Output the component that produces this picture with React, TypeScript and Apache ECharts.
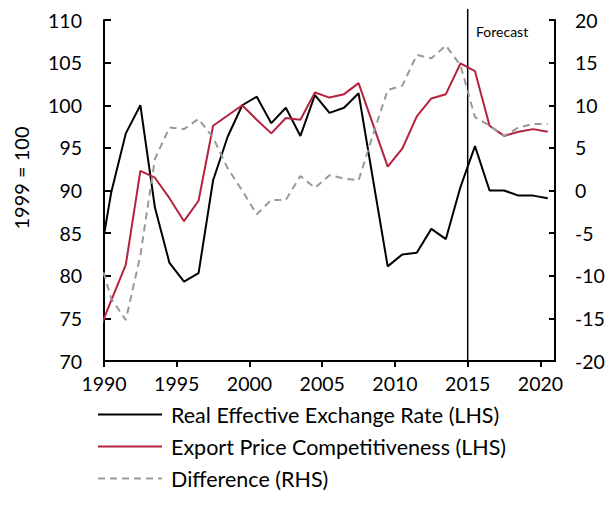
import React, { useEffect, useRef } from "react";
import * as echarts from "echarts";

// Annual data (plotted at mid-year)
const years = [1989, 1990, 1991, 1992, 1993, 1994, 1995, 1996, 1997, 1998, 1999, 2000, 2001, 2002, 2003, 2004, 2005, 2006, 2007, 2008, 2009, 2010, 2011, 2012, 2013, 2014, 2015, 2016, 2017, 2018, 2019, 2020];
const reer = [79.8, 89.8, 96.7, 100.0, 88.0, 81.5, 79.3, 80.3, 91.2, 96.3, 100.0, 101.0, 97.9, 99.7, 96.4, 101.2, 99.1, 99.7, 101.4, 91.2, 81.1, 82.5, 82.7, 85.5, 84.3, 90.4, 95.2, 90.0, 90.0, 89.4, 89.4, 89.1];
const exportPrice = [72.9, 77.1, 81.3, 92.3, 91.5, 89.1, 86.4, 88.8, 97.6, 98.8, 100.0, 98.3, 96.7, 98.5, 98.3, 101.5, 100.9, 101.3, 102.6, 97.7, 92.8, 94.9, 98.7, 100.8, 101.3, 104.9, 104.0, 97.6, 96.4, 96.9, 97.2, 96.9];
const difference = [-6.9, -12.7, -15.2, -7.6, 3.7, 7.4, 7.2, 8.4, 6.2, 2.6, 0.0, -2.8, -1.1, -1.1, 1.7, 0.3, 1.8, 1.4, 1.2, 6.6, 11.8, 12.3, 15.9, 15.5, 17.0, 14.7, 8.6, 7.6, 6.4, 7.4, 7.8, 7.8];
const xTicks = [1990, 1995, 2000, 2005, 2010, 2015, 2020];
const forecastYear = 2015;

const seriesNames = [
  "Real Effective Exchange Rate (LHS)",
  "Export Price Competitiveness (LHS)",
  "Difference (RHS)",
];

const FONT = "Lato";

export default function App() {
  const ref = useRef<HTMLDivElement>(null);

  useEffect(() => {
    if (!ref.current) return;
    const chart = echarts.init(ref.current, undefined, { renderer: "svg" });
    const mid = (arr: number[]) => years.map((y, i) => [y + 0.5, arr[i]]);

    chart.setOption({
      animation: false,
      backgroundColor: "#fff",
      textStyle: { fontFamily: FONT },
      grid: { left: 104, right: 53, top: 20, bottom: 153, containLabel: false },
      xAxis: {
        type: "value",
        min: 1990,
        max: 2021,
        interval: 5,
        splitLine: { show: false },
        axisLine: { show: true, onZero: false, lineStyle: { color: "#000", width: 2 } },
        axisTick: { show: true, inside: false, length: 6, customValues: xTicks, lineStyle: { color: "#000", width: 2 } },
        axisLabel: {
          customValues: xTicks,
          color: "#000",
          fontSize: 19.5,
          fontFamily: FONT,
          margin: 12,
          formatter: (v: number) => String(v),
        },
      },
      yAxis: [
        {
          type: "value",
          min: 70,
          max: 110,
          interval: 5,
          position: "left",
          splitLine: { show: false },
          axisLine: { show: true, lineStyle: { color: "#000", width: 2 } },
          axisTick: { show: true, inside: true, length: 7, lineStyle: { color: "#000", width: 2 } },
          axisLabel: { color: "#000", fontSize: 19.5, fontFamily: FONT, margin: 22 },
        },
        {
          type: "value",
          min: -20,
          max: 20,
          interval: 5,
          position: "right",
          splitLine: { show: false },
          axisLine: { show: true, lineStyle: { color: "#000", width: 2 } },
          axisTick: { show: true, inside: true, length: 6, lineStyle: { color: "#000", width: 2 } },
          axisLabel: { color: "#000", fontSize: 19.5, fontFamily: FONT, margin: 20 },
        },
      ],
      legend: {
        orient: "vertical",
        left: 92,
        top: 398,
        data: seriesNames,
        itemWidth: 64,
        itemHeight: 14,
        itemGap: 9,
        itemStyle: { opacity: 0 },
        textStyle: { color: "#000", fontSize: 21.5, fontFamily: FONT, lineHeight: 23, padding: [0, 0, 0, 4] },
      },
      graphic: [
        {
          type: "text",
          x: 21,
          y: 178,
          rotation: Math.PI / 2,
          style: { text: "1999 = 100", fontSize: 20, fontFamily: FONT, fill: "#000", align: "center", verticalAlign: "middle" },
        },
        {
          type: "text",
          left: 476,
          top: 24,
          style: { text: "Forecast", fontSize: 14, fontFamily: FONT, fill: "#000" },
        },
      ],
      series: [
        {
          name: seriesNames[0],
          type: "line",
          yAxisIndex: 0,
          data: mid(reer),
          showSymbol: false,
          symbol: "none",
          clip: true,
          lineStyle: { color: "#000", width: 2 },
          itemStyle: { color: "#000" },
        },
        {
          name: seriesNames[1],
          type: "line",
          yAxisIndex: 0,
          data: mid(exportPrice),
          showSymbol: false,
          symbol: "none",
          clip: true,
          lineStyle: { color: "#B5223F", width: 2 },
          itemStyle: { color: "#B5223F" },
        },
        {
          name: seriesNames[2],
          type: "line",
          yAxisIndex: 1,
          data: mid(difference),
          showSymbol: false,
          symbol: "none",
          clip: true,
          lineStyle: { color: "#999", width: 2, type: [7, 5] },
          itemStyle: { color: "#999" },
        },
        {
          name: "forecast",
          type: "custom",
          yAxisIndex: 0,
          clip: false,
          silent: true,
          data: [[forecastYear, 70, 111.3]],
          encode: { x: 0, y: 1 },
          renderItem: (_params: any, api: any) => {
            const p0 = api.coord([api.value(0), api.value(1)]);
            const p1 = api.coord([api.value(0), api.value(2)]);
            return {
              type: "line",
              shape: { x1: p0[0], y1: p0[1], x2: p1[0], y2: p1[1] },
              style: { stroke: "#000", lineWidth: 1.5 },
            };
          },
        },
      ],
    });

    return () => chart.dispose();
  }, []);

  return <div ref={ref} style={{ width: 608, height: 514, position: "absolute", left: 0, top: 0 }} />;
}
